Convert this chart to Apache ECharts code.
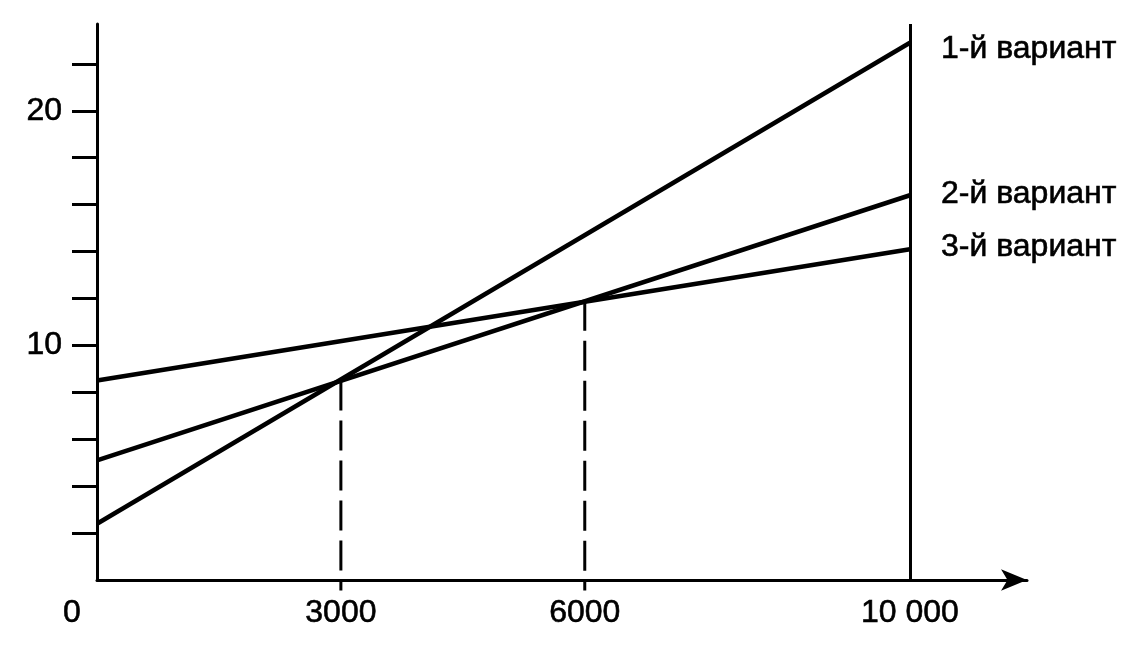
<!DOCTYPE html>
<html>
<head>
<meta charset="utf-8">
<script src="https://cdn.jsdelivr.net/npm/echarts@6/dist/echarts.min.js"></script>
<style>
html,body{margin:0;padding:0;background:#fff;}
#chart{width:1138px;height:654px;}
</style>
</head>
<body>
<div id="chart"></div>
<script>
// Data
var xValues = [0, 10000];
var seriesNames = ['1-й вариант', '2-й вариант', '3-й вариант'];
var variant1 = [2.4, 22.9];
var variant2 = [5.1, 16.4];
var variant3 = [8.5, 14.1];
var crossPoint12 = [3000, 8.5];
var crossPoint23 = [6000, 11.9];
var xTickLabels = [0, 3000, 6000, 10000];
var yTickLabels = [10, 20];
var yTicks = [2, 4, 6, 8, 10, 12, 14, 16, 18, 20, 22];
var verticalX = 10000;

var FONT = '"Liberation Sans", Arial, sans-serif';
var FS = 32;
var TB = 0.6;

function pairs(xs, ys) {
  return xs.map(function (x, i) { return [x, ys[i]]; });
}

var lineStyleMain = { color: '#000', width: 4.5 };
var labelOffsets = [[0, 6], [0, -1], [0, -2]];
var seriesData = [variant1, variant2, variant3];

var series = seriesData.map(function (vals, i) {
  return {
    type: 'line',
    name: seriesNames[i],
    data: pairs(xValues, vals),
    symbol: 'none',
    lineStyle: lineStyleMain,
    clip: false,
    silent: true,
    endLabel: {
      show: true,
      formatter: seriesNames[i],
      distance: 31,
      offset: labelOffsets[i],
      color: '#000',
      textBorderColor: '#000',
      textBorderWidth: TB,
      fontSize: FS,
      fontFamily: FONT
    }
  };
});

[crossPoint12, crossPoint23].forEach(function (p) {
  series.push({
    type: 'line',
    data: [[p[0], p[1]], [p[0], -0.45]],
    symbol: 'none',
    clip: false,
    silent: true,
    lineStyle: { color: '#000', width: 3, type: [30, 10] }
  });
});

series.push({
  type: 'line',
  data: [],
  silent: true,
  markLine: {
    silent: true,
    symbol: 'none',
    label: { show: false },
    lineStyle: { color: '#000', width: 3, type: 'solid' },
    data: [{ xAxis: verticalX }]
  }
});

var option = {
  backgroundColor: '#fff',
  animation: false,
  grid: { left: 97, right: 111, top: 24, bottom: 74, containLabel: false },
  xAxis: {
    type: 'value',
    min: 0,
    max: 11440,
    splitLine: { show: false },
    axisLine: {
      show: true,
      onZero: false,
      lineStyle: { color: '#000', width: 3 },
      symbol: ['none', 'arrow'],
      symbolSize: [16, 26]
    },
    axisTick: { show: false },
    axisLabel: {
      customValues: xTickLabels,
      margin: 17,
      color: '#000',
      textBorderColor: '#000',
      textBorderWidth: TB,
      fontSize: FS,
      fontFamily: FONT,
      formatter: function (v) {
        if (v === 0) return '{z|0}';
        if (v === 10000) return '10 000';
        return String(v);
      },
      rich: {
        z: { fontSize: FS, fontFamily: FONT, color: '#000', textBorderColor: '#000', textBorderWidth: TB, padding: [0, 50, 0, 0] }
      }
    }
  },
  yAxis: {
    type: 'value',
    min: 0,
    max: 23.7,
    splitLine: { show: false },
    axisLine: { show: true, onZero: false, lineStyle: { color: '#000', width: 3 } },
    axisTick: {
      show: true,
      customValues: yTicks,
      length: 25,
      lineStyle: { color: '#000', width: 3 }
    },
    axisLabel: {
      customValues: yTickLabels,
      margin: 35,
      color: '#000',
      textBorderColor: '#000',
      textBorderWidth: TB,
      fontSize: FS,
      fontFamily: FONT
    }
  },
  series: series
};

var chart = echarts.init(document.getElementById('chart'), null, { renderer: 'canvas' });
chart.setOption(option);
</script>
</body>
</html>
